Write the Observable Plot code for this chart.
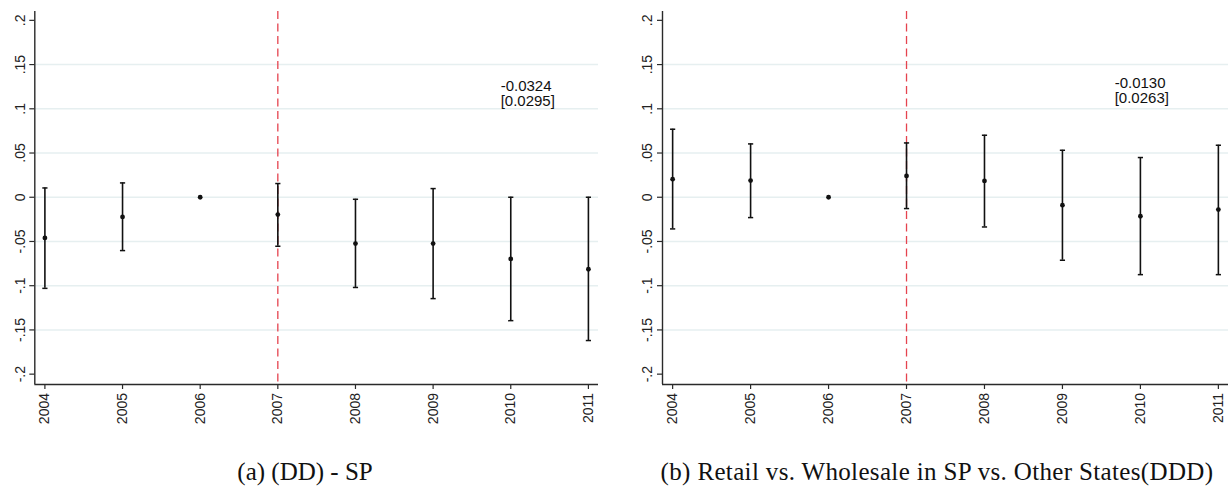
<!DOCTYPE html>
<html>
<head>
<meta charset="utf-8">
<script src="https://cdn.jsdelivr.net/npm/d3@7"></script>
<script src="https://cdn.jsdelivr.net/npm/@observablehq/plot@0.6"></script>
<style>
  html, body { margin: 0; padding: 0; background: #fff; }
  #wrap { position: relative; width: 1231px; height: 491px; }
  .panel { position: absolute; top: 0; }
  .cap { position: absolute; top: 458px; line-height: 28px; font-family: "Liberation Serif", "Times New Roman", serif; font-size: 25px; color: #111; white-space: nowrap; transform: translateX(-50%); }
</style>
</head>
<body>
<div id="wrap">
  <div class="panel" id="pa" style="left:0px"></div>
  <div class="panel" id="pb" style="left:615px"></div>
  <div class="cap" style="left:305px">(a) (DD) - SP</div>
  <div class="cap" style="left:937px; letter-spacing:0.35px">(b) Retail vs. Wholesale in SP vs. Other States(DDD)</div>
</div>
<script>
// ---- data ----
const years = [2004, 2005, 2006, 2007, 2008, 2009, 2010, 2011];

const ddCoef = [-0.0460, -0.0223, 0, -0.0196, -0.0524, -0.0524, -0.0697, -0.0814];
const ddLo   = [-0.1030, -0.0603, null, -0.0554, -0.1020, -0.1146, -0.1395, -0.1620];
const ddHi   = [ 0.0105,  0.0162, null,  0.0155, -0.0023,  0.0098,  0.0000,  0.0000];

const dddCoef = [0.0204, 0.0189, 0, 0.0241, 0.0184, -0.0090, -0.0215, -0.0139];
const dddLo   = [-0.0358, -0.0230, null, -0.0128, -0.0336, -0.0712, -0.0875, -0.0875];
const dddHi   = [ 0.0769,  0.0603, null,  0.0614,  0.0701,  0.0531,  0.0449,  0.0588];

const yTicks = [-0.2, -0.15, -0.1, -0.05, 0, 0.05, 0.1, 0.15, 0.2];
const yTickLabels = ["-.2", "-.15", "-.1", "-.05", "0", ".05", ".1", ".15", ".2"];
const gridTicks = [-0.15, -0.1, -0.05, 0, 0.05, 0.1, 0.15];

const treatYear = 2007;
const annTextA = "-0.0324\n[0.0295]";
const annTextB = "-0.0130\n[0.0263]";
const annPosA = [2009.87, 0.117];
const annPosB = [2009.67, 0.1205];

const xDomain = [2003.87, 2011.13];
const yDomain = [-0.2117, 0.21];

// ---- drawing ----
const FONT = "Liberation Sans, Arial, sans-serif";
const capSymbol = { draw(ctx) { ctx.moveTo(-2.6, 0); ctx.lineTo(2.6, 0); } };

function panel(coef, lo, hi, annText, annPos, width, mLeft, mRight) {
  const rows = years.map((y, i) => ({year: y, coef: coef[i], lo: lo[i], hi: hi[i]}));
  const bars = rows.filter(d => d.lo != null && d.hi != null);
  const ink = "#111";
  const axisInk = "#2a2a2a";
  return Plot.plot({
    width, height: 430,
    marginLeft: mLeft, marginRight: mRight, marginTop: 11, marginBottom: 46,
    style: {fontFamily: FONT, fontSize: "14px", background: "white", overflow: "visible", color: "#222"},
    x: {domain: xDomain, axis: null},
    y: {domain: yDomain, axis: null},
    marks: [
      Plot.ruleY(gridTicks, {stroke: "#e6eff0", strokeWidth: 1.5}),
      // y-axis ticks + labels
      Plot.axisY({ticks: yTicks, tickSize: 5, tickFormat: () => "", stroke: axisInk, strokeWidth: 1.2, label: null}),
      Plot.text(yTicks, {y: d => d, text: (d, i) => yTickLabels[i], frameAnchor: "left", dx: -14.5, rotate: -90, textAnchor: "middle", lineAnchor: "middle", fontSize: 14, fontFamily: FONT, fill: "#222"}),
      // x-axis ticks + labels
      Plot.axisX({ticks: years, tickSize: 5, tickFormat: () => "", stroke: axisInk, strokeWidth: 1.2, label: null}),
      Plot.text(years, {x: d => d, text: d => String(d), frameAnchor: "bottom", dy: 8.5, rotate: -90, textAnchor: "end", lineAnchor: "middle", fontSize: 14, fontFamily: FONT, fill: "#222"}),
      // axis lines
      Plot.ruleX([xDomain[0]], {stroke: axisInk, strokeWidth: 1.4}),
      Plot.ruleY([yDomain[0]], {stroke: axisInk, strokeWidth: 1.4}),
      // treatment line
      Plot.ruleX([treatYear], {stroke: "#e5434f", strokeWidth: 1.3, strokeDasharray: "8,4.5"}),
      // CIs
      Plot.ruleX(bars, {x: "year", y1: "lo", y2: "hi", stroke: ink, strokeWidth: 1.6}),
      Plot.dot(bars, {x: "year", y: "lo", symbol: capSymbol, stroke: ink, strokeWidth: 1.5, fill: "none"}),
      Plot.dot(bars, {x: "year", y: "hi", symbol: capSymbol, stroke: ink, strokeWidth: 1.5, fill: "none"}),
      Plot.dot(rows, {x: "year", y: "coef", r: 2.4, fill: ink, stroke: "none"}),
      // annotation
      Plot.text([annText], {x: annPos[0], y: annPos[1], text: d => d, textAnchor: "start", lineAnchor: "middle", lineHeight: 1.0, fontSize: 15, fontFamily: FONT, fill: "#111"})
    ]
  });
}

document.getElementById("pa").appendChild(panel(ddCoef, ddLo, ddHi, annTextA, annPosA, 615, 34.3, 17));
document.getElementById("pb").appendChild(panel(dddCoef, dddLo, dddHi, annTextB, annPosB, 616, 47, 3));
</script>
</body>
</html>
